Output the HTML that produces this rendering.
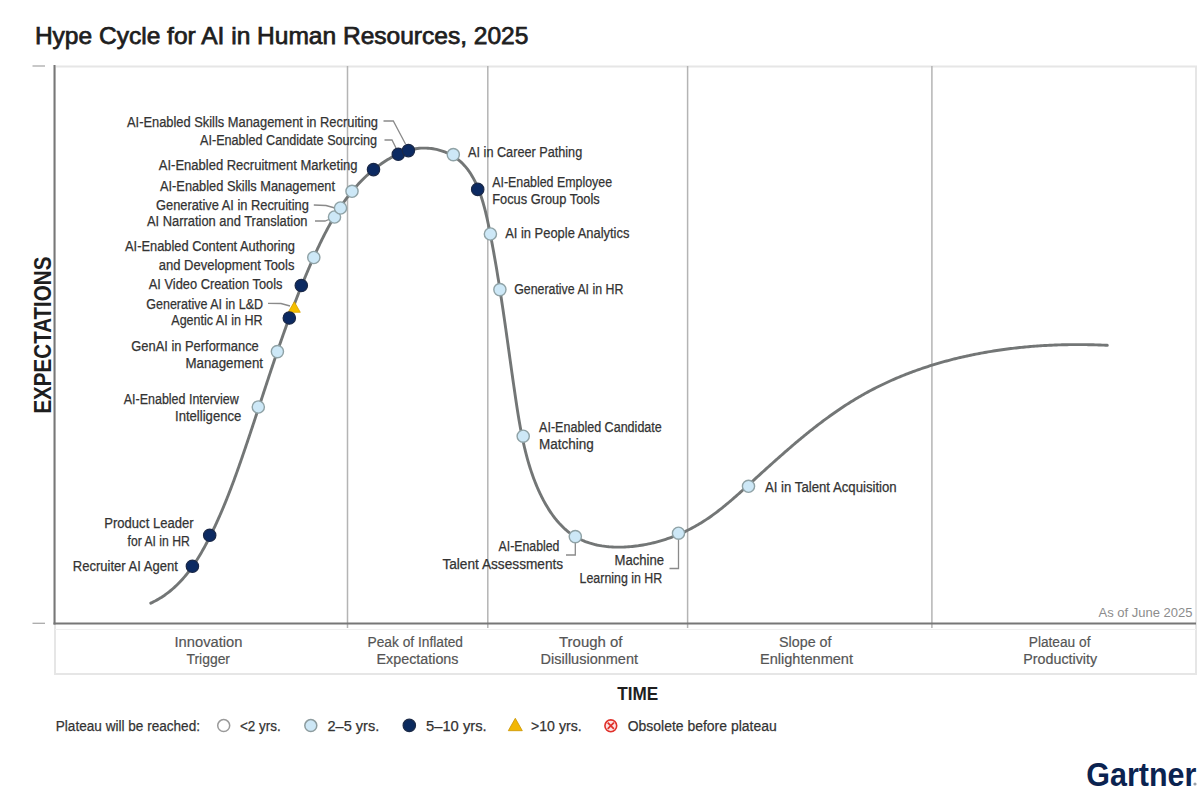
<!DOCTYPE html><html><head><meta charset="utf-8"><style>html,body{margin:0;padding:0;background:#fff;width:1200px;height:800px;overflow:hidden}svg{display:block;font-family:"Liberation Sans",sans-serif}</style></head><body>
<svg width="1200" height="800" viewBox="0 0 1200 800">
<rect width="1200" height="800" fill="#fff"/>
<text x="34.9" y="44.4" font-size="24.3" font-weight="400" fill="#1e1e1e" stroke="#1e1e1e" stroke-width="0.75" textLength="493.5" lengthAdjust="spacingAndGlyphs">Hype Cycle for AI in Human Resources, 2025</text>
<rect x="55" y="66.5" width="1141" height="607.5" fill="none" stroke="#e6e6e6" stroke-width="2"/>
<line x1="55" y1="629.5" x2="1196" y2="629.5" stroke="#f0f0f0" stroke-width="1"/>
<line x1="347.5" y1="66" x2="347.5" y2="628" stroke="#b4b4b4" stroke-width="1.5"/>
<line x1="487.8" y1="66" x2="487.8" y2="628" stroke="#b4b4b4" stroke-width="1.5"/>
<line x1="687.6" y1="66" x2="687.6" y2="628" stroke="#b4b4b4" stroke-width="1.5"/>
<line x1="931.9" y1="66" x2="931.9" y2="628" stroke="#b4b4b4" stroke-width="1.5"/>
<line x1="54.5" y1="65" x2="54.5" y2="624.5" stroke="#777" stroke-width="2"/>
<line x1="53.5" y1="623.5" x2="1196" y2="623.5" stroke="#777" stroke-width="2.2"/>
<line x1="32.5" y1="66" x2="45" y2="66" stroke="#aaa" stroke-width="1.3"/>
<line x1="32.5" y1="623.3" x2="45" y2="623.3" stroke="#aaa" stroke-width="1.3"/>
<text transform="translate(51,413.6) rotate(-90)" x="0" y="0" font-size="23" font-weight="700" fill="#1e1e1e" textLength="157" lengthAdjust="spacingAndGlyphs">EXPECTATIONS</text>
<path d="M150.77,603.13 L152.41,602.36 L154.02,601.56 L155.60,600.74 L157.17,599.88 L158.70,599.00 L160.22,598.09 L161.71,597.16 L163.17,596.19 L164.62,595.21 L166.04,594.19 L167.44,593.15 L168.82,592.09 L170.18,591.01 L171.52,589.90 L172.84,588.76 L174.13,587.61 L175.41,586.43 L176.67,585.24 L177.91,584.02 L179.13,582.78 L180.33,581.53 L181.51,580.25 L182.68,578.96 L183.83,577.65 L184.96,576.32 L186.07,574.97 L187.17,573.61 L188.25,572.24 L189.32,570.84 L190.37,569.44 L191.41,568.02 L192.43,566.58 L193.44,565.13 L194.43,563.67 L195.41,562.20 L196.37,560.72 L197.33,559.22 L198.27,557.72 L199.20,556.21 L200.11,554.68 L201.02,553.15 L201.91,551.61 L202.79,550.06 L203.66,548.51 L204.53,546.95 L205.38,545.38 L206.22,543.80 L207.05,542.23 L207.88,540.64 L208.69,539.06 L209.50,537.47 L210.30,535.88 L211.09,534.28 L211.87,532.68 L212.65,531.08 L213.42,529.48 L214.18,527.88 L214.94,526.27 L215.69,524.67 L216.43,523.06 L217.16,521.45 L217.89,519.83 L218.62,518.22 L219.33,516.60 L220.04,514.98 L220.75,513.36 L221.45,511.74 L222.14,510.12 L222.83,508.49 L223.51,506.86 L224.19,505.24 L224.86,503.61 L225.53,501.97 L226.19,500.34 L226.85,498.71 L227.50,497.07 L228.15,495.43 L228.79,493.79 L229.43,492.15 L230.06,490.51 L230.69,488.87 L231.32,487.22 L231.94,485.58 L232.56,483.93 L233.18,482.28 L233.79,480.63 L234.40,478.98 L235.00,477.33 L235.60,475.68 L236.20,474.03 L236.80,472.37 L237.39,470.72 L237.98,469.06 L238.57,467.40 L239.15,465.75 L239.74,464.09 L240.32,462.43 L240.90,460.77 L241.47,459.11 L242.05,457.45 L242.62,455.78 L243.19,454.12 L243.76,452.46 L244.33,450.79 L244.90,449.13 L245.47,447.46 L246.03,445.80 L246.59,444.13 L247.16,442.46 L247.72,440.80 L248.28,439.13 L248.84,437.46 L249.40,435.79 L249.96,434.12 L250.51,432.45 L251.07,430.78 L251.62,429.11 L252.18,427.44 L252.73,425.77 L253.28,424.10 L253.84,422.43 L254.39,420.76 L254.94,419.09 L255.49,417.41 L256.04,415.74 L256.59,414.07 L257.14,412.40 L257.69,410.72 L258.24,409.05 L258.79,407.38 L259.34,405.70 L259.89,404.03 L260.44,402.36 L260.99,400.68 L261.54,399.01 L262.09,397.34 L262.64,395.66 L263.19,393.99 L263.74,392.32 L264.29,390.64 L264.84,388.97 L265.39,387.29 L265.94,385.62 L266.49,383.95 L267.04,382.28 L267.59,380.60 L268.15,378.93 L268.70,377.26 L269.26,375.58 L269.81,373.91 L270.37,372.24 L270.92,370.57 L271.48,368.90 L272.04,367.23 L272.60,365.55 L273.16,363.88 L273.72,362.21 L274.28,360.54 L274.85,358.87 L275.41,357.20 L275.98,355.54 L276.55,353.87 L277.12,352.20 L277.69,350.53 L278.26,348.87 L278.83,347.20 L279.40,345.53 L279.98,343.87 L280.56,342.20 L281.14,340.54 L281.72,338.87 L282.30,337.21 L282.89,335.55 L283.47,333.89 L284.06,332.22 L284.65,330.56 L285.24,328.90 L285.84,327.24 L286.43,325.58 L287.03,323.93 L287.63,322.27 L288.23,320.61 L288.84,318.96 L289.44,317.30 L290.05,315.65 L290.66,313.99 L291.28,312.34 L291.89,310.69 L292.51,309.04 L293.13,307.39 L293.76,305.74 L294.38,304.09 L295.01,302.45 L295.65,300.80 L296.28,299.15 L296.92,297.51 L297.56,295.87 L298.20,294.22 L298.85,292.58 L299.50,290.94 L300.15,289.30 L300.80,287.67 L301.46,286.03 L302.12,284.39 L302.79,282.76 L303.46,281.13 L304.13,279.49 L304.80,277.86 L305.48,276.23 L306.16,274.60 L306.85,272.98 L307.54,271.35 L308.23,269.73 L308.92,268.10 L309.62,266.48 L310.33,264.86 L311.03,263.24 L311.74,261.62 L312.46,260.01 L313.18,258.39 L313.90,256.78 L314.63,255.16 L315.36,253.55 L316.09,251.94 L316.83,250.34 L317.58,248.73 L318.33,247.13 L319.08,245.53 L319.84,243.94 L320.61,242.34 L321.38,240.75 L322.16,239.17 L322.95,237.59 L323.74,236.01 L324.54,234.43 L325.35,232.86 L326.17,231.30 L326.99,229.74 L327.82,228.18 L328.66,226.63 L329.51,225.09 L330.36,223.55 L331.23,222.02 L332.10,220.49 L332.99,218.97 L333.88,217.45 L334.78,215.95 L335.70,214.45 L336.62,212.95 L337.56,211.47 L338.50,209.99 L339.46,208.52 L340.43,207.05 L341.40,205.60 L342.40,204.15 L343.40,202.71 L344.41,201.28 L345.44,199.86 L346.48,198.45 L347.53,197.05 L348.60,195.66 L349.68,194.28 L350.77,192.90 L351.88,191.54 L353.00,190.19 L354.14,188.85 L355.29,187.52 L356.45,186.20 L357.63,184.89 L358.83,183.59 L360.04,182.31 L361.26,181.04 L362.51,179.77 L363.77,178.53 L365.04,177.29 L366.33,176.07 L367.64,174.85 L368.97,173.66 L370.31,172.47 L371.67,171.30 L373.05,170.15 L374.44,169.00 L375.86,167.87 L377.29,166.76 L378.74,165.67 L380.20,164.59 L381.68,163.54 L383.18,162.51 L384.69,161.50 L386.22,160.52 L387.76,159.56 L389.32,158.63 L390.89,157.73 L392.47,156.86 L394.06,156.02 L395.67,155.22 L397.29,154.45 L398.92,153.72 L400.56,153.03 L402.21,152.37 L403.87,151.76 L405.54,151.18 L407.22,150.66 L408.91,150.17 L410.60,149.74 L412.31,149.35 L414.02,149.01 L415.74,148.72 L417.47,148.48 L419.20,148.30 L420.93,148.17 L422.68,148.10 L424.42,148.08 L426.17,148.11 L427.91,148.20 L429.65,148.35 L431.38,148.54 L433.10,148.79 L434.81,149.09 L436.51,149.44 L438.20,149.84 L439.86,150.29 L441.51,150.78 L443.14,151.33 L444.74,151.92 L446.31,152.55 L447.86,153.24 L449.37,153.96 L450.85,154.74 L452.30,155.55 L453.71,156.41 L455.08,157.31 L456.41,158.25 L457.71,159.23 L458.97,160.25 L460.20,161.31 L461.39,162.41 L462.55,163.54 L463.68,164.71 L464.77,165.91 L465.83,167.15 L466.86,168.42 L467.86,169.72 L468.83,171.05 L469.77,172.41 L470.69,173.80 L471.57,175.22 L472.43,176.67 L473.27,178.14 L474.07,179.64 L474.86,181.16 L475.61,182.71 L476.35,184.28 L477.06,185.87 L477.75,187.48 L478.42,189.12 L479.07,190.77 L479.70,192.44 L480.31,194.12 L480.90,195.82 L481.47,197.54 L482.03,199.28 L482.57,201.02 L483.09,202.78 L483.60,204.55 L484.09,206.33 L484.57,208.12 L485.03,209.92 L485.49,211.73 L485.93,213.54 L486.36,215.36 L486.78,217.19 L487.19,219.02 L487.60,220.86 L487.99,222.69 L488.37,224.53 L488.75,226.37 L489.13,228.21 L489.49,230.04 L489.86,231.88 L490.21,233.71 L490.57,235.54 L490.92,237.36 L491.27,239.18 L491.61,241.00 L491.95,242.81 L492.29,244.62 L492.62,246.43 L492.96,248.23 L493.28,250.03 L493.61,251.83 L493.93,253.62 L494.25,255.41 L494.57,257.19 L494.88,258.97 L495.19,260.75 L495.50,262.53 L495.80,264.30 L496.11,266.07 L496.41,267.84 L496.71,269.61 L497.00,271.37 L497.29,273.13 L497.58,274.89 L497.87,276.64 L498.16,278.39 L498.44,280.14 L498.72,281.89 L499.00,283.64 L499.28,285.38 L499.56,287.12 L499.83,288.86 L500.10,290.60 L500.37,292.33 L500.64,294.06 L500.90,295.79 L501.17,297.52 L501.43,299.25 L501.69,300.98 L501.95,302.70 L502.21,304.42 L502.47,306.15 L502.72,307.87 L502.98,309.59 L503.23,311.30 L503.48,313.02 L503.73,314.74 L503.98,316.45 L504.23,318.16 L504.48,319.87 L504.73,321.59 L504.97,323.30 L505.22,325.01 L505.46,326.72 L505.70,328.42 L505.95,330.13 L506.19,331.84 L506.43,333.55 L506.67,335.25 L506.91,336.96 L507.15,338.67 L507.39,340.37 L507.63,342.08 L507.87,343.79 L508.11,345.49 L508.35,347.20 L508.58,348.90 L508.82,350.61 L509.06,352.32 L509.30,354.02 L509.54,355.73 L509.78,357.44 L510.02,359.15 L510.26,360.85 L510.49,362.56 L510.73,364.27 L510.98,365.99 L511.22,367.70 L511.46,369.41 L511.70,371.12 L511.94,372.84 L512.18,374.55 L512.43,376.27 L512.67,377.99 L512.92,379.71 L513.17,381.43 L513.41,383.15 L513.66,384.87 L513.91,386.60 L514.16,388.33 L514.41,390.05 L514.67,391.78 L514.92,393.52 L515.18,395.25 L515.43,396.99 L515.69,398.72 L515.95,400.46 L516.21,402.20 L516.48,403.95 L516.74,405.69 L517.01,407.44 L517.28,409.19 L517.55,410.94 L517.83,412.69 L518.11,414.44 L518.40,416.19 L518.69,417.94 L518.98,419.70 L519.28,421.45 L519.59,423.20 L519.90,424.96 L520.21,426.71 L520.53,428.47 L520.86,430.22 L521.20,431.97 L521.54,433.72 L521.88,435.48 L522.24,437.23 L522.60,438.98 L522.98,440.73 L523.36,442.47 L523.75,444.22 L524.14,445.96 L524.55,447.71 L524.97,449.45 L525.39,451.19 L525.83,452.92 L526.28,454.66 L526.74,456.39 L527.20,458.12 L527.68,459.85 L528.18,461.57 L528.68,463.29 L529.19,465.01 L529.72,466.73 L530.26,468.44 L530.82,470.15 L531.38,471.85 L531.96,473.55 L532.56,475.25 L533.17,476.94 L533.79,478.63 L534.43,480.31 L535.08,481.99 L535.75,483.66 L536.43,485.33 L537.13,487.00 L537.85,488.66 L538.58,490.31 L539.33,491.96 L540.10,493.60 L540.88,495.23 L541.68,496.85 L542.50,498.47 L543.33,500.07 L544.19,501.65 L545.06,503.23 L545.95,504.79 L546.86,506.33 L547.79,507.86 L548.73,509.37 L549.70,510.87 L550.68,512.34 L551.69,513.80 L552.71,515.23 L553.76,516.64 L554.82,518.03 L555.91,519.40 L557.01,520.74 L558.14,522.05 L559.29,523.34 L560.46,524.60 L561.65,525.83 L562.86,527.03 L564.09,528.21 L565.35,529.35 L566.63,530.46 L567.93,531.53 L569.25,532.57 L570.60,533.58 L571.97,534.54 L573.36,535.48 L574.78,536.37 L576.22,537.22 L577.68,538.04 L579.17,538.82 L580.68,539.56 L582.20,540.26 L583.75,540.92 L585.32,541.55 L586.91,542.14 L588.52,542.70 L590.14,543.22 L591.78,543.70 L593.44,544.15 L595.11,544.57 L596.79,544.96 L598.49,545.31 L600.20,545.63 L601.92,545.92 L603.66,546.17 L605.40,546.40 L607.15,546.60 L608.92,546.77 L610.69,546.90 L612.47,547.01 L614.25,547.09 L616.04,547.15 L617.84,547.17 L619.64,547.17 L621.44,547.15 L623.25,547.09 L625.05,547.02 L626.86,546.92 L628.67,546.79 L630.48,546.64 L632.29,546.47 L634.10,546.27 L635.90,546.05 L637.70,545.82 L639.50,545.56 L641.29,545.28 L643.07,544.97 L644.85,544.65 L646.63,544.31 L648.40,543.95 L650.16,543.57 L651.92,543.17 L653.67,542.75 L655.41,542.31 L657.15,541.85 L658.88,541.38 L660.61,540.88 L662.32,540.37 L664.03,539.84 L665.74,539.29 L667.43,538.72 L669.12,538.13 L670.80,537.53 L672.47,536.91 L674.13,536.27 L675.79,535.62 L677.43,534.94 L679.07,534.25 L680.70,533.55 L682.32,532.83 L683.93,532.09 L685.53,531.33 L687.12,530.56 L688.70,529.78 L690.27,528.97 L691.84,528.16 L693.39,527.32 L694.93,526.47 L696.46,525.61 L697.98,524.73 L699.49,523.84 L700.99,522.93 L702.48,522.01 L703.96,521.08 L705.42,520.13 L706.88,519.16 L708.32,518.19 L709.75,517.20 L711.18,516.20 L712.59,515.19 L714.00,514.16 L715.40,513.13 L716.79,512.08 L718.17,511.02 L719.54,509.96 L720.91,508.88 L722.27,507.80 L723.62,506.71 L724.97,505.60 L726.31,504.49 L727.65,503.38 L728.98,502.25 L730.31,501.12 L731.63,499.99 L732.95,498.84 L734.26,497.69 L735.58,496.54 L736.89,495.38 L738.19,494.22 L739.50,493.05 L740.80,491.88 L742.10,490.71 L743.40,489.53 L744.70,488.35 L746.00,487.17 L747.30,485.99 L748.60,484.81 L749.90,483.62 L751.20,482.44 L752.51,481.25 L753.81,480.07 L755.11,478.88 L756.42,477.69 L757.72,476.50 L759.03,475.32 L760.33,474.13 L761.64,472.94 L762.95,471.75 L764.26,470.57 L765.57,469.38 L766.89,468.19 L768.20,467.01 L769.51,465.82 L770.83,464.64 L772.15,463.46 L773.47,462.27 L774.79,461.09 L776.11,459.91 L777.44,458.74 L778.76,457.56 L780.09,456.39 L781.42,455.21 L782.75,454.04 L784.09,452.88 L785.42,451.71 L786.76,450.55 L788.10,449.39 L789.44,448.23 L790.79,447.07 L792.13,445.92 L793.48,444.77 L794.83,443.62 L796.19,442.47 L797.54,441.33 L798.90,440.20 L800.26,439.06 L801.63,437.93 L802.99,436.81 L804.36,435.68 L805.73,434.56 L807.11,433.45 L808.49,432.34 L809.87,431.23 L811.25,430.13 L812.64,429.03 L814.03,427.94 L815.42,426.85 L816.82,425.77 L818.21,424.69 L819.62,423.62 L821.02,422.55 L822.43,421.49 L823.84,420.43 L825.26,419.38 L826.68,418.34 L828.10,417.30 L829.53,416.26 L830.96,415.24 L832.40,414.22 L833.83,413.20 L835.28,412.19 L836.72,411.19 L838.17,410.20 L839.63,409.21 L841.09,408.23 L842.55,407.25 L844.01,406.28 L845.49,405.32 L846.96,404.37 L848.44,403.43 L849.92,402.49 L851.41,401.56 L852.91,400.64 L854.40,399.72 L855.90,398.82 L857.41,397.92 L858.92,397.03 L860.44,396.15 L861.96,395.28 L863.49,394.41 L865.02,393.56 L866.55,392.71 L868.09,391.87 L869.64,391.04 L871.18,390.22 L872.74,389.41 L874.30,388.60 L875.86,387.81 L877.42,387.02 L878.99,386.24 L880.57,385.46 L882.15,384.70 L883.73,383.94 L885.32,383.20 L886.91,382.46 L888.51,381.73 L890.10,381.00 L891.71,380.29 L893.32,379.58 L894.93,378.88 L896.54,378.19 L898.16,377.50 L899.78,376.83 L901.41,376.16 L903.04,375.50 L904.67,374.85 L906.30,374.20 L907.94,373.56 L909.59,372.94 L911.23,372.31 L912.88,371.70 L914.54,371.09 L916.19,370.50 L917.85,369.91 L919.51,369.32 L921.18,368.75 L922.85,368.18 L924.52,367.62 L926.19,367.06 L927.87,366.52 L929.55,365.98 L931.23,365.45 L932.92,364.92 L934.61,364.41 L936.30,363.90 L937.99,363.40 L939.69,362.90 L941.39,362.42 L943.09,361.94 L944.79,361.46 L946.50,361.00 L948.20,360.54 L949.92,360.09 L951.63,359.64 L953.34,359.21 L955.06,358.78 L956.78,358.35 L958.50,357.94 L960.22,357.53 L961.95,357.12 L963.67,356.73 L965.40,356.34 L967.13,355.96 L968.87,355.58 L970.60,355.22 L972.34,354.85 L974.07,354.50 L975.81,354.15 L977.55,353.81 L979.29,353.48 L981.04,353.15 L982.78,352.83 L984.53,352.51 L986.27,352.20 L988.02,351.90 L989.77,351.61 L991.52,351.32 L993.28,351.04 L995.03,350.76 L996.78,350.49 L998.54,350.23 L1000.29,349.97 L1002.05,349.72 L1003.81,349.48 L1005.57,349.24 L1007.33,349.01 L1009.09,348.78 L1010.85,348.56 L1012.61,348.35 L1014.37,348.14 L1016.13,347.94 L1017.89,347.75 L1019.66,347.56 L1021.42,347.38 L1023.18,347.20 L1024.95,347.03 L1026.71,346.87 L1028.48,346.71 L1030.24,346.56 L1032.00,346.41 L1033.77,346.27 L1035.53,346.14 L1037.30,346.01 L1039.06,345.88 L1040.83,345.77 L1042.59,345.65 L1044.35,345.55 L1046.12,345.45 L1047.88,345.35 L1049.64,345.26 L1051.41,345.18 L1053.17,345.10 L1054.93,345.03 L1056.69,344.96 L1058.45,344.90 L1060.21,344.85 L1061.97,344.80 L1063.73,344.75 L1065.48,344.71 L1067.24,344.68 L1068.99,344.65 L1070.75,344.62 L1072.50,344.61 L1074.25,344.59 L1076.01,344.59 L1077.76,344.58 L1079.50,344.59 L1081.25,344.59 L1083.00,344.61 L1084.74,344.63 L1086.49,344.65 L1088.23,344.68 L1089.97,344.71 L1091.71,344.75 L1093.45,344.79 L1095.18,344.84 L1096.92,344.89 L1098.65,344.95 L1100.38,345.01 L1102.11,345.08 L1103.84,345.15 L1105.57,345.23 L1107.29,345.31" fill="none" stroke="#737676" stroke-width="2.9" stroke-linecap="round"/>
<path d="M383.5,121 L393.3,121 L405.5,144" fill="none" stroke="#8a8a8a" stroke-width="1.3"/>
<path d="M384.5,140 L392,140 L396,148" fill="none" stroke="#8a8a8a" stroke-width="1.3"/>
<path d="M313.8,205 L326,205.5 L335,208" fill="none" stroke="#8a8a8a" stroke-width="1.3"/>
<path d="M315,221 L325,221 L330,219" fill="none" stroke="#8a8a8a" stroke-width="1.3"/>
<path d="M268,303.3 L281,303.5 L290,306" fill="none" stroke="#8a8a8a" stroke-width="1.3"/>
<path d="M575.3,543 L575.3,555 L566,555" fill="none" stroke="#8a8a8a" stroke-width="1.3"/>
<path d="M678.5,540 L678.5,568.5 L669.5,568.5" fill="none" stroke="#8a8a8a" stroke-width="1.3"/>
<path d="M294.3,301.8 L300.3,312.3 L288.1,312.3 Z" fill="#f5bf00" stroke="#d8a200" stroke-width="0.8"/>
<circle cx="192.4" cy="566.3" r="6.2" fill="#0c2a62" stroke="#1a2847" stroke-width="1.2"/>
<circle cx="209.7" cy="535.3" r="6.2" fill="#0c2a62" stroke="#1a2847" stroke-width="1.2"/>
<circle cx="258.3" cy="407" r="6.1" fill="#cde8f7" stroke="#8fa2a6" stroke-width="1.4"/>
<circle cx="277.4" cy="351.6" r="6.1" fill="#cde8f7" stroke="#8fa2a6" stroke-width="1.4"/>
<circle cx="289.3" cy="318" r="6.2" fill="#0c2a62" stroke="#1a2847" stroke-width="1.2"/>
<circle cx="301.3" cy="285.5" r="6.2" fill="#0c2a62" stroke="#1a2847" stroke-width="1.2"/>
<circle cx="313.8" cy="257.5" r="6.1" fill="#cde8f7" stroke="#8fa2a6" stroke-width="1.4"/>
<circle cx="334.5" cy="217" r="6.1" fill="#cde8f7" stroke="#8fa2a6" stroke-width="1.4"/>
<circle cx="340.5" cy="208" r="6.1" fill="#cde8f7" stroke="#8fa2a6" stroke-width="1.4"/>
<circle cx="352" cy="191.3" r="6.1" fill="#cde8f7" stroke="#8fa2a6" stroke-width="1.4"/>
<circle cx="373.5" cy="169.6" r="6.2" fill="#0c2a62" stroke="#1a2847" stroke-width="1.2"/>
<circle cx="398.3" cy="154.3" r="6.2" fill="#0c2a62" stroke="#1a2847" stroke-width="1.2"/>
<circle cx="408.4" cy="150.6" r="6.2" fill="#0c2a62" stroke="#1a2847" stroke-width="1.2"/>
<circle cx="453.3" cy="154.6" r="6.1" fill="#cde8f7" stroke="#8fa2a6" stroke-width="1.4"/>
<circle cx="477.7" cy="189.4" r="6.2" fill="#0c2a62" stroke="#1a2847" stroke-width="1.2"/>
<circle cx="490.4" cy="234" r="6.1" fill="#cde8f7" stroke="#8fa2a6" stroke-width="1.4"/>
<circle cx="499.9" cy="289.6" r="6.1" fill="#cde8f7" stroke="#8fa2a6" stroke-width="1.4"/>
<circle cx="523.2" cy="436.2" r="6.1" fill="#cde8f7" stroke="#8fa2a6" stroke-width="1.4"/>
<circle cx="575.3" cy="536.6" r="6.1" fill="#cde8f7" stroke="#8fa2a6" stroke-width="1.4"/>
<circle cx="678.5" cy="533.2" r="6.1" fill="#cde8f7" stroke="#8fa2a6" stroke-width="1.4"/>
<circle cx="748.5" cy="486.3" r="6.1" fill="#cde8f7" stroke="#8fa2a6" stroke-width="1.4"/>
<text x="127" y="127" font-size="14" fill="#333" stroke="#333" stroke-width="0.25" textLength="251.0" lengthAdjust="spacingAndGlyphs">AI-Enabled Skills Management in Recruiting</text>
<text x="200" y="145" font-size="14" fill="#333" stroke="#333" stroke-width="0.25" textLength="177.0" lengthAdjust="spacingAndGlyphs">AI-Enabled Candidate Sourcing</text>
<text x="158.8" y="169.5" font-size="14" fill="#333" stroke="#333" stroke-width="0.25" textLength="198.7" lengthAdjust="spacingAndGlyphs">AI-Enabled Recruitment Marketing</text>
<text x="160" y="191" font-size="14" fill="#333" stroke="#333" stroke-width="0.25" textLength="175.0" lengthAdjust="spacingAndGlyphs">AI-Enabled Skills Management</text>
<text x="156" y="209.5" font-size="14" fill="#333" stroke="#333" stroke-width="0.25" textLength="152.8" lengthAdjust="spacingAndGlyphs">Generative AI in Recruiting</text>
<text x="147" y="226" font-size="14" fill="#333" stroke="#333" stroke-width="0.25" textLength="160.5" lengthAdjust="spacingAndGlyphs">AI Narration and Translation</text>
<text x="125" y="251.3" font-size="14" fill="#333" stroke="#333" stroke-width="0.25" textLength="170.0" lengthAdjust="spacingAndGlyphs">AI-Enabled Content Authoring</text>
<text x="158.8" y="269.5" font-size="14" fill="#333" stroke="#333" stroke-width="0.25" textLength="135.7" lengthAdjust="spacingAndGlyphs">and Development Tools</text>
<text x="148.8" y="288.8" font-size="14" fill="#333" stroke="#333" stroke-width="0.25" textLength="133.7" lengthAdjust="spacingAndGlyphs">AI Video Creation Tools</text>
<text x="146.3" y="308.8" font-size="14" fill="#333" stroke="#333" stroke-width="0.25" textLength="116.7" lengthAdjust="spacingAndGlyphs">Generative AI in L&amp;D</text>
<text x="171.3" y="325" font-size="14" fill="#333" stroke="#333" stroke-width="0.25" textLength="91.2" lengthAdjust="spacingAndGlyphs">Agentic AI in HR</text>
<text x="131.3" y="350.5" font-size="14" fill="#333" stroke="#333" stroke-width="0.25" textLength="127.5" lengthAdjust="spacingAndGlyphs">GenAI in Performance</text>
<text x="185.5" y="367.5" font-size="14" fill="#333" stroke="#333" stroke-width="0.25" textLength="77.5" lengthAdjust="spacingAndGlyphs">Management</text>
<text x="123.8" y="403.8" font-size="14" fill="#333" stroke="#333" stroke-width="0.25" textLength="115.0" lengthAdjust="spacingAndGlyphs">AI-Enabled Interview</text>
<text x="175" y="421.3" font-size="14" fill="#333" stroke="#333" stroke-width="0.25" textLength="66.3" lengthAdjust="spacingAndGlyphs">Intelligence</text>
<text x="104.3" y="528" font-size="14" fill="#333" stroke="#333" stroke-width="0.25" textLength="89.2" lengthAdjust="spacingAndGlyphs">Product Leader</text>
<text x="127.5" y="545.8" font-size="14" fill="#333" stroke="#333" stroke-width="0.25" textLength="62.3" lengthAdjust="spacingAndGlyphs">for AI in HR</text>
<text x="72.8" y="570.5" font-size="14" fill="#333" stroke="#333" stroke-width="0.25" textLength="105.0" lengthAdjust="spacingAndGlyphs">Recruiter AI Agent</text>
<text x="468.1" y="156.5" font-size="14" fill="#333" stroke="#333" stroke-width="0.25" textLength="114.1" lengthAdjust="spacingAndGlyphs">AI in Career Pathing</text>
<text x="492.2" y="187.4" font-size="14" fill="#333" stroke="#333" stroke-width="0.25" textLength="119.9" lengthAdjust="spacingAndGlyphs">AI-Enabled Employee</text>
<text x="492.2" y="204.2" font-size="14" fill="#333" stroke="#333" stroke-width="0.25" textLength="107.5" lengthAdjust="spacingAndGlyphs">Focus Group Tools</text>
<text x="505.2" y="238.4" font-size="14" fill="#333" stroke="#333" stroke-width="0.25" textLength="124.2" lengthAdjust="spacingAndGlyphs">AI in People Analytics</text>
<text x="514.2" y="293.8" font-size="14" fill="#333" stroke="#333" stroke-width="0.25" textLength="109.2" lengthAdjust="spacingAndGlyphs">Generative AI in HR</text>
<text x="539.1" y="431.8" font-size="14" fill="#333" stroke="#333" stroke-width="0.25" textLength="122.7" lengthAdjust="spacingAndGlyphs">AI-Enabled Candidate</text>
<text x="539.1" y="449.4" font-size="14" fill="#333" stroke="#333" stroke-width="0.25" textLength="54.7" lengthAdjust="spacingAndGlyphs">Matching</text>
<text x="498.6" y="551.3" font-size="14" fill="#333" stroke="#333" stroke-width="0.25" textLength="60.8" lengthAdjust="spacingAndGlyphs">AI-Enabled</text>
<text x="442.4" y="569.3" font-size="14" fill="#333" stroke="#333" stroke-width="0.25" textLength="120.8" lengthAdjust="spacingAndGlyphs">Talent Assessments</text>
<text x="614.5" y="565.3" font-size="14" fill="#333" stroke="#333" stroke-width="0.25" textLength="49.5" lengthAdjust="spacingAndGlyphs">Machine</text>
<text x="579.6" y="583.3" font-size="14" fill="#333" stroke="#333" stroke-width="0.25" textLength="82.6" lengthAdjust="spacingAndGlyphs">Learning in HR</text>
<text x="765" y="491.7" font-size="14" fill="#333" stroke="#333" stroke-width="0.25" textLength="131.7" lengthAdjust="spacingAndGlyphs">AI in Talent Acquisition</text>
<text x="1192.5" y="617" font-size="13" fill="#8c8c8c" text-anchor="end">As of June 2025</text>
<text x="174.5" y="646.6" font-size="15.5" fill="#555" stroke="#555" stroke-width="0.2" textLength="68.0" lengthAdjust="spacingAndGlyphs">Innovation</text>
<text x="186.5" y="663.9" font-size="15.5" fill="#555" stroke="#555" stroke-width="0.2" textLength="43.5" lengthAdjust="spacingAndGlyphs">Trigger</text>
<text x="367.5" y="646.6" font-size="15.5" fill="#555" stroke="#555" stroke-width="0.2" textLength="95.5" lengthAdjust="spacingAndGlyphs">Peak of Inflated</text>
<text x="376.5" y="663.9" font-size="15.5" fill="#555" stroke="#555" stroke-width="0.2" textLength="82.0" lengthAdjust="spacingAndGlyphs">Expectations</text>
<text x="559" y="646.6" font-size="15.5" fill="#555" stroke="#555" stroke-width="0.2" textLength="63.5" lengthAdjust="spacingAndGlyphs">Trough of</text>
<text x="540.5" y="663.9" font-size="15.5" fill="#555" stroke="#555" stroke-width="0.2" textLength="97.5" lengthAdjust="spacingAndGlyphs">Disillusionment</text>
<text x="779" y="646.6" font-size="15.5" fill="#555" stroke="#555" stroke-width="0.2" textLength="52.5" lengthAdjust="spacingAndGlyphs">Slope of</text>
<text x="760" y="663.9" font-size="15.5" fill="#555" stroke="#555" stroke-width="0.2" textLength="93.0" lengthAdjust="spacingAndGlyphs">Enlightenment</text>
<text x="1028.75" y="646.6" font-size="15.5" fill="#555" stroke="#555" stroke-width="0.2" textLength="61.7" lengthAdjust="spacingAndGlyphs">Plateau of</text>
<text x="1023.3" y="663.9" font-size="15.5" fill="#555" stroke="#555" stroke-width="0.2" textLength="73.8" lengthAdjust="spacingAndGlyphs">Productivity</text>
<text x="617.3" y="700" font-size="17.5" font-weight="700" fill="#1e1e1e" textLength="41" lengthAdjust="spacingAndGlyphs">TIME</text>
<text x="55.8" y="731.3" font-size="15.5" fill="#333" stroke="#333" stroke-width="0.25" textLength="144.2" lengthAdjust="spacingAndGlyphs">Plateau will be reached:</text>
<circle cx="223.7" cy="725.6" r="6" fill="#fff" stroke="#9a9a9a" stroke-width="1.5"/>
<text x="240" y="731.4" font-size="15.5" fill="#333" stroke="#333" stroke-width="0.25" textLength="40.8" lengthAdjust="spacingAndGlyphs">&lt;2 yrs.</text>
<circle cx="310.8" cy="725.6" r="6" fill="#cde7f6" stroke="#8d9c9f" stroke-width="1.5"/>
<text x="327.5" y="731.4" font-size="15.5" fill="#333" stroke="#333" stroke-width="0.25" textLength="51.7" lengthAdjust="spacingAndGlyphs">2–5 yrs.</text>
<circle cx="409.3" cy="725.4" r="6.2" fill="#0b2a5e" stroke="#1c2b48" stroke-width="1.2"/>
<text x="426" y="731.4" font-size="15.5" fill="#333" stroke="#333" stroke-width="0.25" textLength="60.7" lengthAdjust="spacingAndGlyphs">5–10 yrs.</text>
<path d="M515.3,718.3 L522.3,730.7 L508.3,730.7 Z" fill="#f2b705" stroke="#c99400" stroke-width="0.8"/>
<text x="531" y="731.4" font-size="15.5" fill="#333" stroke="#333" stroke-width="0.25" textLength="50.7" lengthAdjust="spacingAndGlyphs">&gt;10 yrs.</text>
<circle cx="610.8" cy="725.8" r="5.9" fill="#fbe3e3" stroke="#e0302a" stroke-width="1.6"/>
<path d="M607.7,722.7 L613.9,728.9 M613.9,722.7 L607.7,728.9" stroke="#e0302a" stroke-width="1.7"/>
<text x="627.7" y="731.4" font-size="15.5" fill="#333" stroke="#333" stroke-width="0.25" textLength="149" lengthAdjust="spacingAndGlyphs">Obsolete before plateau</text>
<text x="1086.3" y="785.7" font-size="34" font-weight="700" fill="#0b2350" textLength="110" lengthAdjust="spacingAndGlyphs">Gartner</text>
<circle cx="1195" cy="784" r="1.6" fill="#9aa0a8"/>
</svg></body></html>
